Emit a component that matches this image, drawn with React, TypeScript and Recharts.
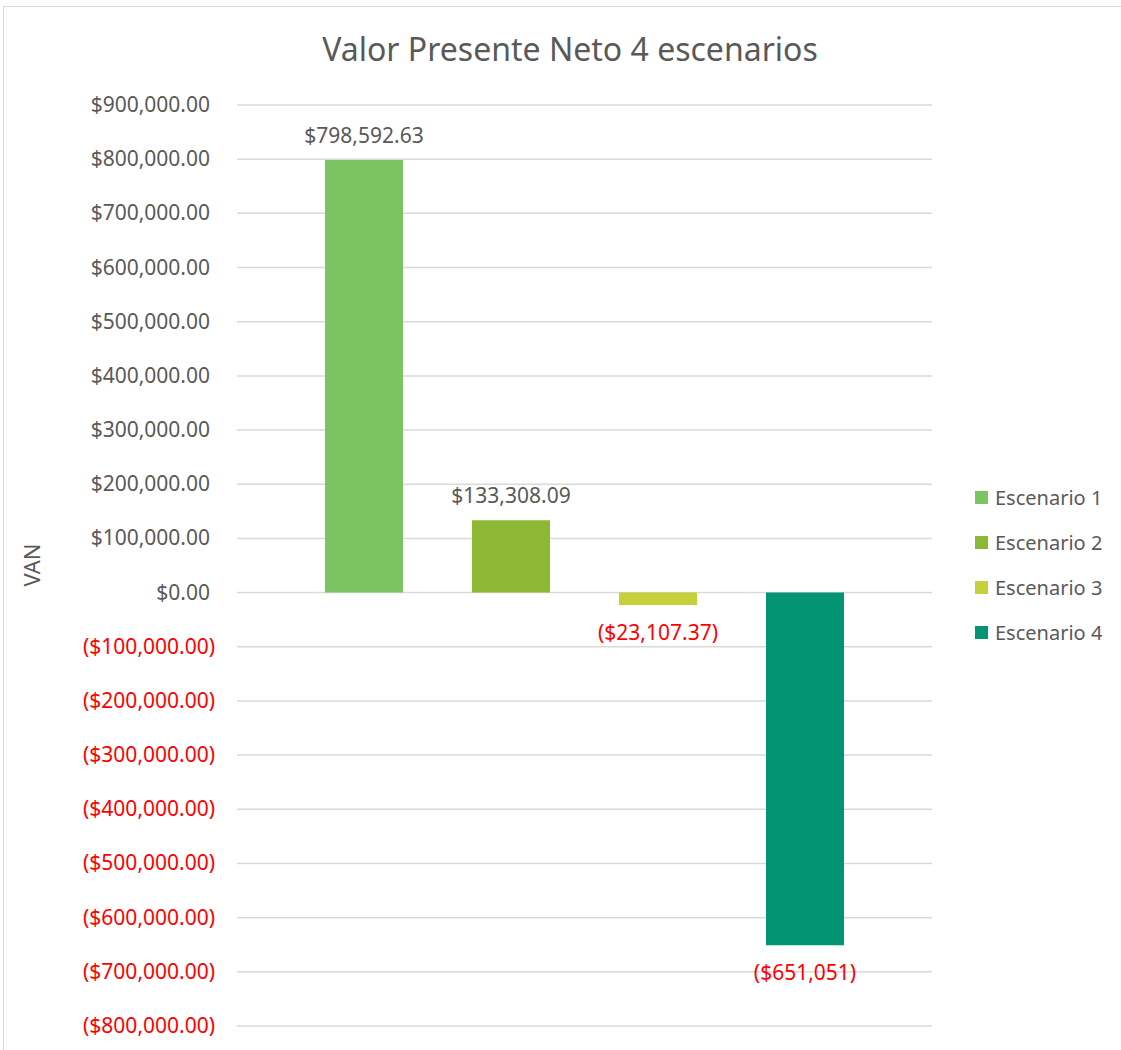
import { Bar, BarChart, CartesianGrid, LabelList, XAxis, YAxis } from "recharts";

const categories = ["VAN"];
const seriesNames = ["Escenario 1", "Escenario 2", "Escenario 3", "Escenario 4"];
const seriesValues = [798592.63, 133308.09, -23107.37, -651051];
const seriesLabels = ["$798,592.63", "$133,308.09", "($23,107.37)", "($651,051)"];
const yTicks = [
  900000, 800000, 700000, 600000, 500000, 400000, 300000, 200000, 100000, 0,
  -100000, -200000, -300000, -400000, -500000, -600000, -700000, -800000,
];

const colors = ["#7CC361", "#8CB833", "#C5D03A", "#039474"];
const FONT = "'Noto Sans', sans-serif";
const GREY = "#595959";
const RED = "#FF0000";

const data = categories.map((c) => {
  const row: Record<string, string | number> = { name: c };
  seriesNames.forEach((s, i) => {
    row[s] = seriesValues[i];
  });
  return row;
});

const fmtTick = (v: number) => {
  const s = "$" + Math.abs(v).toLocaleString("en-US", { minimumFractionDigits: 2, maximumFractionDigits: 2 });
  return v < 0 ? `(${s})` : s;
};

// accounting format: positives leave room for the closing parenthesis
const YTick = (props: any) => {
  const { x, y, payload } = props;
  const v = payload.value as number;
  return (
    <text x={v < 0 ? x - 14 : x - 19} y={y} dy={7} textAnchor="end" fontFamily={FONT} fontSize={21} fill={v < 0 ? RED : GREY}>
      {fmtTick(v)}
    </text>
  );
};

const makeLabel = (idx: number) => (props: any) => {
  const { x, y, width, height } = props;
  const v = seriesValues[idx];
  const top = Math.min(y, y + height);
  const bottom = Math.max(y, y + height);
  const cx = x + width / 2;
  const ty = v >= 0 ? top - 17 : bottom + 35;
  return (
    <text x={cx} y={ty} textAnchor="middle" fontFamily={FONT} fontSize={21} fill={v < 0 ? RED : GREY}>
      {seriesLabels[idx]}
    </text>
  );
};

export default function App() {
  return (
    <div style={{ position: "absolute", left: 0, top: 0, width: 1121, height: 1050, background: "#fff", overflow: "hidden" }}>
      <div
        style={{
          position: "absolute",
          left: 3,
          top: 6,
          width: 1130,
          height: 1060,
          border: "1px solid #D9D9D9",
          boxSizing: "border-box",
        }}
      />
      <div
        style={{
          position: "absolute",
          top: 27,
          left: 0,
          width: 1140,
          textAlign: "center",
          fontFamily: FONT,
          fontSize: 32,
          color: GREY,
        }}
      >
        Valor Presente Neto 4 escenarios
      </div>
      <div
        style={{
          position: "absolute",
          left: 9,
          top: 565,
          transform: "translate(0, -50%) rotate(-90deg)",
          transformOrigin: "center",
          fontFamily: FONT,
          fontSize: 22,
          color: GREY,
        }}
      >
        VAN
      </div>
      <div style={{ position: "absolute", left: 0, top: 0 }}>
        <BarChart
          width={1121}
          height={1050}
          data={data}
          margin={{ top: 105, right: 189, bottom: 24, left: 0 }}
          barSize={78}
          barGap={69}
          barCategoryGap={0}
        >
          <CartesianGrid vertical={false} stroke="#D9D9D9" strokeWidth={1.5} />
          <XAxis dataKey="name" hide />
          <YAxis
            width={237}
            domain={[-800000, 900000]}
            ticks={yTicks}
            interval={0}
            axisLine={false}
            tickLine={false}
            tick={<YTick />}
          />
          {seriesNames.map((s, i) => (
            <Bar key={s} dataKey={s} fill={colors[i]} isAnimationActive={false}>
              <LabelList dataKey={s} content={makeLabel(i)} />
            </Bar>
          ))}
        </BarChart>
      </div>
      <div style={{ position: "absolute", left: 975, top: 475, fontFamily: FONT, fontSize: 20, color: GREY }}>
        {seriesNames.map((s, i) => (
          <div key={s} style={{ display: "flex", alignItems: "center", height: 45 }}>
            <span style={{ width: 13, height: 13, background: colors[i], marginRight: 7, display: "inline-block" }} />
            <span>{s}</span>
          </div>
        ))}
      </div>
    </div>
  );
}
